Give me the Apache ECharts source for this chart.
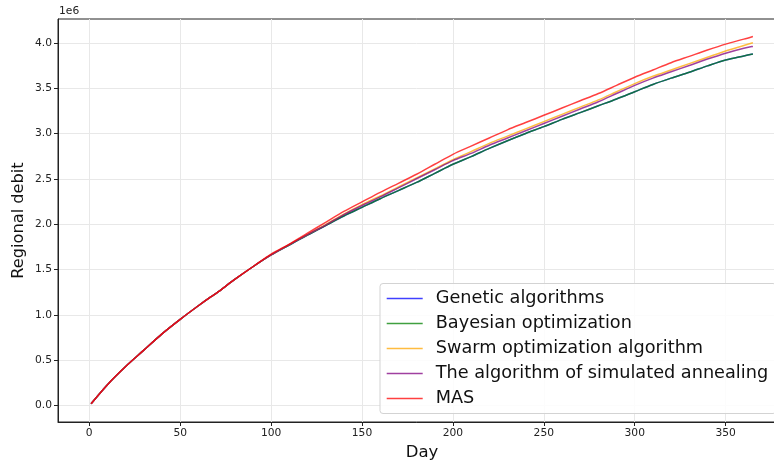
<!DOCTYPE html>
<html>
<head>
<meta charset="utf-8">
<script src="https://cdn.jsdelivr.net/npm/echarts@6/dist/echarts.min.js"></script>
<style>
html,body{margin:0;padding:0;background:#fff;}
#c{width:774px;height:463px;}
</style>
</head>
<body>
<div id="c"></div>
<script>
// Data (values in units of 1e6)
const days = [1,10,20,30,40,50,60,67,70,80,90,100,110,120,130,140,150,160,170,180,190,200,210,220,230,240,250,260,270,280,290,300,310,320,330,340,350,360,365];
const seriesNames = ["Genetic algorithms","Bayesian optimization","Swarm optimization algorithm","The algorithm of simulated annealing","MAS"];
const genetic = [0.02,0.23,0.43,0.61,0.79,0.95,1.10,1.20,1.24,1.39,1.53,1.66,1.77,1.88,1.985,2.09,2.185,2.28,2.37,2.46,2.56,2.66,2.745,2.835,2.92,3.00,3.075,3.155,3.23,3.305,3.38,3.46,3.54,3.61,3.675,3.745,3.81,3.855,3.876];
const bayesian = [0.02,0.23,0.43,0.61,0.79,0.95,1.10,1.20,1.24,1.39,1.53,1.66,1.77,1.88,1.985,2.09,2.185,2.28,2.37,2.46,2.56,2.66,2.745,2.835,2.92,3.00,3.075,3.155,3.23,3.305,3.38,3.46,3.54,3.61,3.675,3.745,3.81,3.855,3.876];
const swarm = [0.02,0.23,0.43,0.61,0.79,0.95,1.10,1.20,1.24,1.39,1.53,1.66,1.775,1.885,1.995,2.11,2.215,2.31,2.41,2.51,2.61,2.71,2.80,2.89,2.97,3.05,3.13,3.21,3.29,3.37,3.46,3.55,3.63,3.70,3.77,3.84,3.91,3.97,4.00];
const annealing = [0.02,0.23,0.43,0.61,0.79,0.95,1.10,1.20,1.24,1.39,1.53,1.66,1.775,1.885,1.99,2.105,2.205,2.30,2.40,2.50,2.60,2.70,2.78,2.87,2.95,3.03,3.11,3.19,3.27,3.35,3.44,3.53,3.61,3.68,3.75,3.82,3.885,3.94,3.96];
const mas = [0.02,0.23,0.43,0.61,0.79,0.95,1.10,1.20,1.24,1.39,1.53,1.67,1.78,1.90,2.02,2.14,2.245,2.35,2.45,2.55,2.66,2.77,2.86,2.95,3.04,3.12,3.20,3.28,3.36,3.44,3.53,3.62,3.70,3.78,3.85,3.92,3.985,4.04,4.07];
const xTicks = [0,50,100,150,200,250,300,350];
const yTicks = [0,0.5,1.0,1.5,2.0,2.5,3.0,3.5,4.0];
const colors = ['#0000ff','#008000','#ffa500','#800080','#ff0000'];

const allValues = [genetic,bayesian,swarm,annealing,mas];
const font = 'DejaVu Sans';
const chart = echarts.init(document.getElementById('c'), null, {renderer:'canvas'});
chart.setOption({
  animation:false,
  backgroundColor:'#fff',
  textStyle:{fontFamily:font},
  grid:{left:58, top:19, right:-12, bottom:41, outerBoundsMode:'none', containLabel:false,
        show:true, borderColor:'#222', borderWidth:1, backgroundColor:'transparent'},
  xAxis:{
    type:'value', min:-17.2, max:383.2,
    name:'Day', nameLocation:'middle', nameGap:22, nameMoveOverlap:false,
    nameTextStyle:{fontSize:16.5, color:'#111', fontFamily:font},
    axisLine:{show:true, onZero:false, lineStyle:{color:'#222', width:1}},
    axisTick:{show:true, length:4, customValues:xTicks, lineStyle:{color:'#222'}},
    axisLabel:{customValues:xTicks, fontSize:10.7, color:'#222', margin:6, fontFamily:font},
    splitLine:{show:true, lineStyle:{color:'#e8e8e8', width:1}}
  },
  yAxis:{
    type:'value', min:-0.182, max:4.262,
    name:'Regional debit', nameLocation:'middle', nameGap:31, nameRotate:90, nameMoveOverlap:false,
    nameTextStyle:{fontSize:16.2, color:'#111', fontFamily:font},
    axisLine:{show:true, onZero:false, lineStyle:{color:'#222', width:1}},
    axisTick:{show:true, length:4, customValues:yTicks, lineStyle:{color:'#222'}},
    axisLabel:{customValues:yTicks, fontSize:10.7, color:'#222', margin:6, fontFamily:font,
      formatter:v=>v.toFixed(1)},
    splitLine:{show:true, lineStyle:{color:'#e8e8e8', width:1}}
  },
  graphic:[{type:'text', left:59, top:6, style:{text:'1e6', fontSize:10.7, fill:'#222', fontFamily:font}}],
  legend:{
    orient:'vertical', left:380, top:283.5,
    data:seriesNames,
    icon:'rect', itemWidth:36, itemHeight:1.5, itemGap:5,
    padding:[5,8,5,6.7],
    backgroundColor:'rgba(255,255,255,0.85)', borderColor:'#d3d3d3', borderWidth:1, borderRadius:3,
    textStyle:{fontSize:17.7, color:'#111', lineHeight:20, fontFamily:font, padding:[0,0,0,8]}
  },
  series: seriesNames.map((n,i)=>({
    name:n, type:'line', showSymbol:false, symbol:'none', smooth:0.3,
    data: days.map((d,j)=>[d, allValues[i][j]]),
    lineStyle:{color:colors[i], width:1.5, opacity:0.75},
    itemStyle:{color:colors[i], opacity:0.75},
    z: 2+i
  }))
});
</script>
</body>
</html>
